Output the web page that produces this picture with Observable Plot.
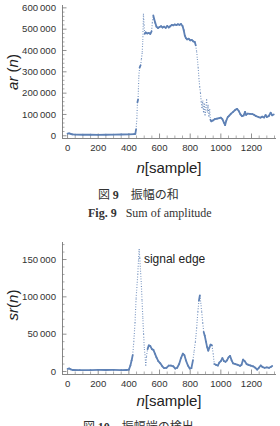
<!DOCTYPE html>
<html>
<head>
<meta charset="utf-8">
<script src="https://cdn.jsdelivr.net/npm/d3@7"></script>
<script src="https://cdn.jsdelivr.net/npm/@observablehq/plot@0.6"></script>
<style>
  html, body { margin: 0; padding: 0; background: #fff; }
  #page { position: relative; width: 280px; height: 426px; overflow: hidden; }
  .chart { position: absolute; left: 0; }
  .lab { position: absolute; white-space: nowrap; color: #222; font-family: "Liberation Sans", Arial, sans-serif; font-size: 15px; transform: translate(-50%, -50%); }
  .ylab { transform: translate(-50%, -50%) rotate(-90deg); }
  .cap { position: absolute; white-space: nowrap; color: #333; }
  .jp { font-family: "Noto Sans CJK JP", sans-serif; font-size: 12px; line-height: 16px; }
  .en { font-family: "Liberation Serif", "DejaVu Serif", serif; font-size: 12px; line-height: 16px; }
</style>
</head>
<body>
<div id="page">
  <div id="chart1" class="chart" style="top:0px"></div>
  <div id="chart2" class="chart" style="top:232px"></div>
  <div class="lab ylab" style="left:12px; top:72px"><i>ar</i> (<i>n</i>)</div>
  <div class="lab" style="left:169px; top:167px"><i>n</i>[sample]</div>
  <div class="cap jp" style="left:98px; top:186px">図 <b style="font-family:'Liberation Serif',serif">9</b>　振幅の和</div>
  <div class="cap en" style="left:88px; top:205px"><b>Fig. 9</b>&nbsp;&nbsp;&nbsp;Sum of amplitude</div>
  <div class="lab ylab" style="left:12px; top:305px"><i>sr</i>(<i>n</i>)</div>
  <div class="lab" style="left:169px; top:400px"><i>n</i>[sample]</div>
  <div class="cap jp" style="left:83px; top:418px">図 <b style="font-family:'Liberation Serif',serif">10</b>　振幅端の検出</div>
</div>
<script>
// ---- data: chart 1, sum of amplitude ar(n)
const arN = [0,10,20,30,50,100,150,200,250,300,350,400,435,442,447,452,456,460,465,470,476,482,487,491,495,499,503,510,520,530,540,548,553,559,565,572,580,590,600,610,620,630,640,650,660,670,680,690,700,710,720,730,740,750,758,765,772,780,790,800,810,820,830,836,842,847,852,857,862,867,872,877,882,887,892,897,902,907,912,917,922,927,932,938,948,960,975,990,1000,1010,1020,1028,1035,1045,1055,1065,1080,1095,1106,1118,1128,1138,1148,1158,1165,1175,1190,1205,1218,1230,1245,1258,1270,1282,1292,1300,1312,1325,1335,1345];
const arV = [10000,11000,9500,6500,5500,5000,4800,4500,5000,5500,6000,7000,8000,9000,30000,80000,157000,170000,280000,320000,330000,360000,392000,450000,572000,520000,478000,485000,480000,482000,478000,490000,530000,565000,548000,530000,512000,505000,510000,514000,508000,512000,506000,515000,508000,514000,520000,518000,522000,519000,523000,520000,524000,515000,495000,470000,458000,452000,455000,448000,450000,443000,440000,425000,395000,360000,320000,270000,230000,200000,160000,130000,165000,110000,150000,95000,130000,170000,110000,145000,90000,125000,75000,68000,72000,78000,80000,83000,85000,78000,62000,50000,70000,88000,95000,103000,112000,122000,126000,115000,100000,92000,95000,112000,98000,104000,103000,102000,98000,92000,88000,85000,90000,86000,97000,88000,92000,108000,96000,100000];

// ---- data: chart 2, signal edge sr(n)
const srN = [0,10,20,35,80,150,200,250,300,350,385,400,410,418,425,432,440,447,452,458,463,467,471,476,481,486,491,496,501,505,510,515,522,530,540,550,560,570,580,592,605,618,630,645,660,675,690,703,715,728,740,752,762,772,785,797,808,818,826,834,842,850,857,863,869,875,882,888,895,903,910,918,925,933,942,950,957,968,980,990,1000,1010,1020,1030,1040,1050,1060,1070,1080,1095,1110,1125,1135,1145,1155,1168,1180,1195,1210,1225,1237,1248,1260,1272,1285,1300,1315,1328,1335];
const srV = [3500,4000,3000,2000,1800,1900,2300,2000,2200,1800,2000,2500,8000,15000,22000,40000,65000,98000,112000,130000,150000,164000,152000,135000,118000,95000,72000,50000,30000,23000,8000,20000,30000,35000,34000,30000,29000,24000,19000,14000,11000,7000,4500,5000,8000,8000,7000,4000,5000,10000,18000,24000,22000,15000,8000,4000,4500,15000,28000,40000,58000,80000,95000,102000,92000,80000,65000,53000,48000,40000,33000,28000,32000,36000,35000,24000,10000,9000,8000,12000,14000,18000,14000,13000,15000,19000,21000,15000,11000,10000,9000,7500,9000,16000,14000,10000,9000,8000,7000,5000,2500,5000,8000,6000,5000,5500,5000,6500,7500];

// ---- ticks
const xMajor = [0,200,400,600,800,1000,1200];
const xMinor = [50,100,150,250,300,350,450,500,550,650,700,750,850,900,950,1050,1100,1150,1250,1300,1350];
const arMajor = [0,100000,200000,300000,400000,500000,600000];
const srMajor = [0,50000,100000,150000];

const annText = "signal edge";
const annN = 498, annV = 150000;

const blue = "#5e81b5";
const axisColor = "#777";
const fmt = v => d3.format(",")(v).replace(/,/g, "\u2009");

function minorOf(major, step, max) {
  const out = [];
  for (let v = 0; v <= max; v += step) if (!major.includes(v)) out.push(v);
  return out;
}

function chart({N, V, xDomain, yDomain, yMajor, yMinorStep, width, height, mt, mb, ml, mr, extra = []}) {
  const fw = width - ml - mr, fh = height - mt - mb;
  const pxX = fw / (xDomain[1] - xDomain[0]);
  const pxY = fh / (yDomain[1] - yDomain[0]);
  const pts = N.map((n, i) => ({n, v: V[i]}));
  const segs = d3.pairs(pts).map(([a, b]) => ({
    x1: a.n, y1: a.v, x2: b.n, y2: b.v,
    steep: Math.abs((b.v - a.v) * pxY) > 6 * Math.abs((b.n - a.n) * pxX)
  }));
  const yMinor = minorOf(yMajor, yMinorStep, yDomain[1]);
  return Plot.plot({
    width, height, marginTop: mt, marginBottom: mb, marginLeft: ml, marginRight: mr,
    style: {fontFamily: "'Liberation Sans', Arial, sans-serif", fontSize: "9.6px", color: "#333", background: "transparent"},
    x: {domain: xDomain, axis: null},
    y: {domain: yDomain, axis: null},
    marks: [
      Plot.axisX(xMajor, {tickSize: 0, tickPadding: 5.5, tickFormat: d => String(d), fill: "#333"}),
      Plot.axisY(yMajor, {tickSize: 0, tickPadding: 6.5, tickFormat: fmt, fill: "#333"}),
      Plot.tickX(xMajor, {x: d => d, insetTop: fh - 4.5, stroke: axisColor, strokeWidth: 0.8}),
      Plot.tickX(xMinor, {x: d => d, insetTop: fh - 2.5, stroke: axisColor, strokeWidth: 0.6}),
      Plot.tickY(yMajor, {y: d => d, insetRight: fw - 4.5, stroke: axisColor, strokeWidth: 0.8}),
      Plot.tickY(yMinor, {y: d => d, insetRight: fw - 2.5, stroke: axisColor, strokeWidth: 0.6}),
      Plot.ruleX([xDomain[0]], {stroke: axisColor, strokeWidth: 0.9}),
      Plot.ruleY([yDomain[0]], {stroke: axisColor, strokeWidth: 0.9}),
      Plot.link(segs.filter(d => !d.steep), {x1: "x1", y1: "y1", x2: "x2", y2: "y2", stroke: blue, strokeWidth: 1.8, strokeLinecap: "round"}),
      Plot.link(segs.filter(d => d.steep), {x1: "x1", y1: "y1", x2: "x2", y2: "y2", stroke: blue, strokeWidth: 1.1, strokeDasharray: "0.9,1.7", strokeOpacity: 0.9}),
      ...extra
    ]
  });
}

document.getElementById("chart1").append(chart({
  N: arN, V: arV, xDomain: [-33, 1363], yDomain: [-12700, 611000],
  yMajor: arMajor, yMinorStep: 20000,
  width: 280, height: 180, mt: 5, mb: 42, ml: 62, mr: 4
}));

document.getElementById("chart2").append(chart({
  N: srN, V: srV, xDomain: [-33, 1363], yDomain: [-4000, 172800],
  yMajor: srMajor, yMinorStep: 10000,
  width: 280, height: 180, mt: 10, mb: 38, ml: 62, mr: 4,
  extra: [Plot.text([annText], {x: annN, y: annV, text: d => d, textAnchor: "start", fontSize: 12, fill: "#222"})]
}));
</script>
</body>
</html>
